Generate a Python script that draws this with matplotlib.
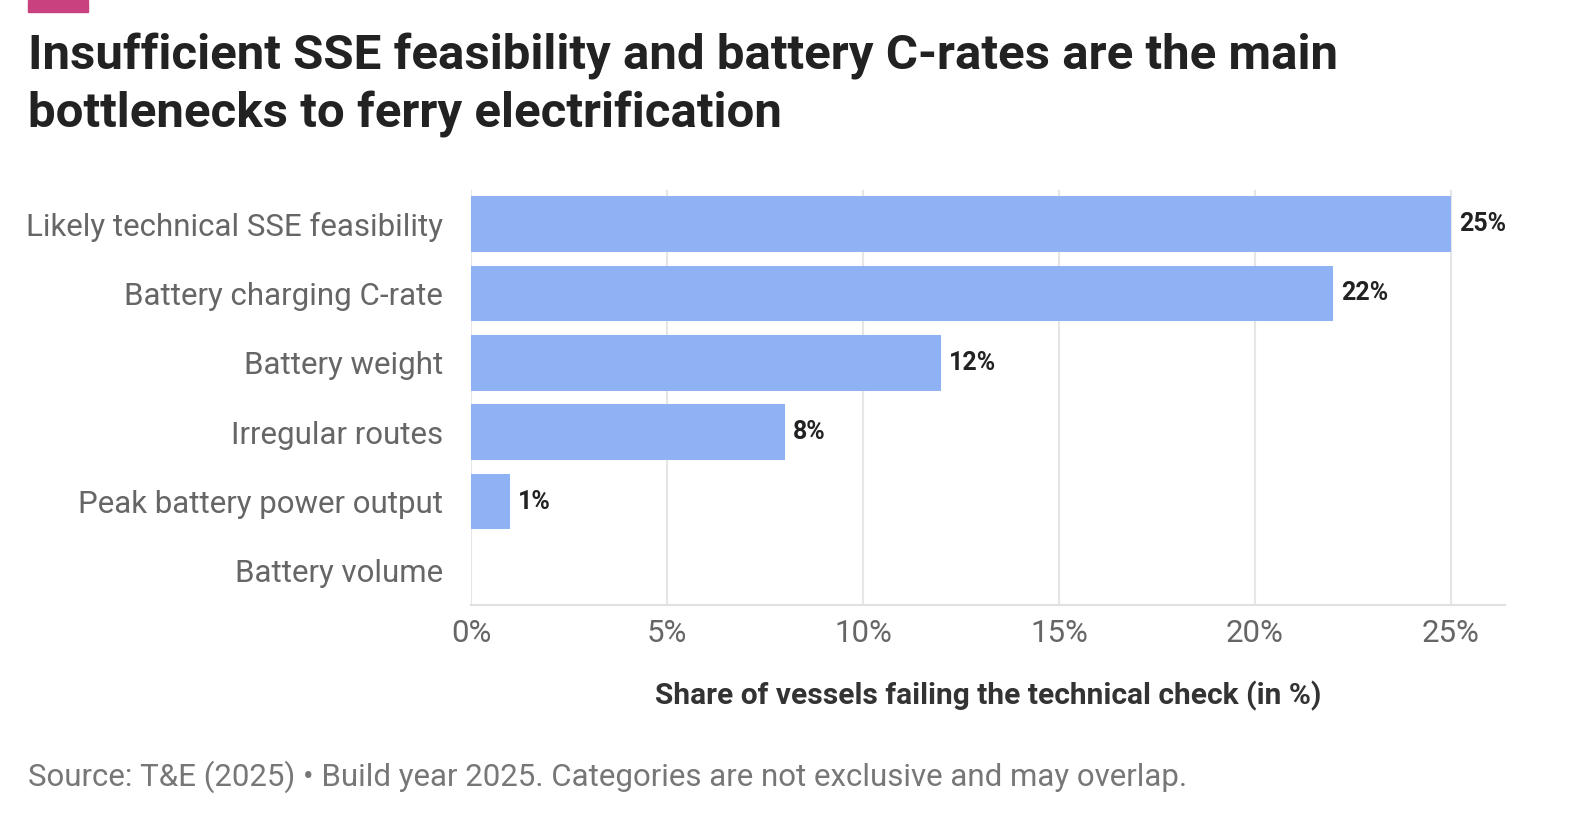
import matplotlib
matplotlib.use("Agg")
import matplotlib.pyplot as plt
from matplotlib.patches import Rectangle

categories = ["Likely technical SSE feasibility", "Battery charging C-rate", "Battery weight",
              "Irregular routes", "Peak battery power output", "Battery volume"]
values = [25, 22, 12, 8, 1, 0]
xticks = [0, 5, 10, 15, 20, 25]

plt.rcParams['font.family'] = ['Roboto', 'DejaVu Sans']
W, H = 1588, 834
fig = plt.figure(figsize=(W/100, H/100), dpi=100)
ax = fig.add_axes([471/W, 1-605/H, (1505-471)/W, (605-190)/H])

y = list(range(len(categories)))
ax.barh(y, values, height=0.8, color="#8fb2f5", zorder=2)
for yi, v in zip(y, values):
    if v > 0:
        ax.text(v + 0.2, yi, f"{v}%", va="center", ha="left", fontsize=18, fontweight="bold", color="#222222")
ax.set_ylim(5.49, -0.49)
ax.set_xlim(0, 26.38)
ax.set_yticks(y)
ax.set_yticklabels(categories, fontsize=22.5, color="#666666")
ax.set_xticks(xticks)
ax.set_xticklabels([f"{t}%" for t in xticks], fontsize=22.5, color="#666666")
ax.tick_params(length=0, pad=10)
ax.tick_params(axis='y', pad=20)
ax.grid(axis='x', color="#e6e6e6", linewidth=1.5, zorder=0)
for s in ["top", "right", "left"]:
    ax.spines[s].set_visible(False)
ax.spines["bottom"].set_color("#e0e0e0")
ax.spines["bottom"].set_linewidth(1.5)
ax.set_xlabel("Share of vessels failing the technical check (in %)", fontsize=21.5,
              fontweight="bold", color="#333333", labelpad=24)

fig.patches.append(Rectangle((28/W, 1-12/H), 60/W, 12/H, transform=fig.transFigure,
                             color="#c9427f", zorder=5))
fig.text(28/W, 1-33/H, "Insufficient SSE feasibility and battery C-rates are the main\nbottlenecks to ferry electrification",
         fontsize=35.5, fontweight="bold", color="#222222", va="top", ha="left", linespacing=1.3)
fig.text(28/W, 1-777/H, "Source: T&E (2025) • Build year 2025. Categories are not exclusive and may overlap.",
         fontsize=22.5, color="#777777", va="center", ha="left")
fig.savefig("out.png", dpi=100, facecolor="white")
